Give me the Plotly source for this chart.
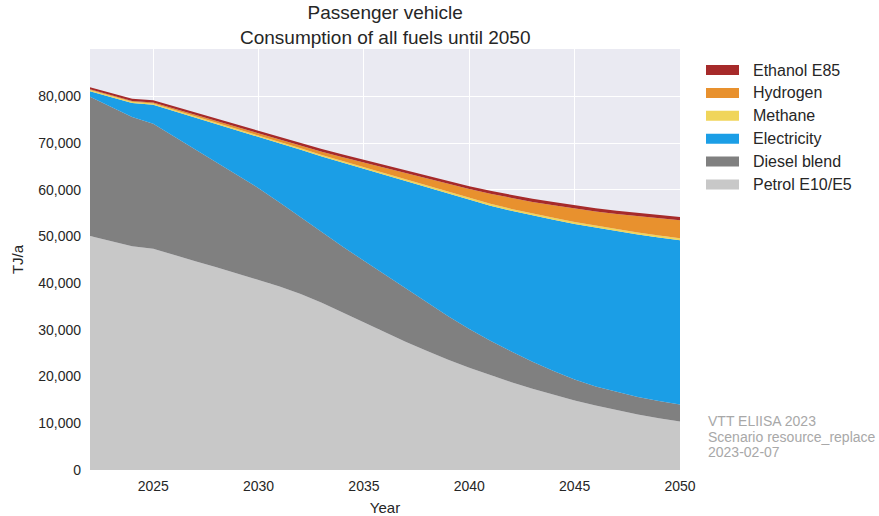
import plotly.graph_objects as go

years = list(range(2022, 2051))

petrol = [50100, 49000, 47900, 47400, 46000, 44700, 43400, 42100, 40700, 39300,
          37700, 35800, 33700, 31500, 29400, 27400, 25500, 23600, 21900, 20300,
          18800, 17400, 16100, 14900, 13800, 12800, 11900, 11100, 10400]
diesel = [29800, 28700, 27700, 26750, 25400, 23950, 22500, 21000, 19650, 18000,
          16400, 15100, 14100, 13300, 12400, 11400, 10300, 9300, 8300, 7400,
          6600, 5800, 5100, 4500, 4100, 3900, 3750, 3700, 3650]
electricity = [1200, 2150, 2980, 4070, 5460, 6850, 8240, 9680, 11070, 12700,
               14450, 16230, 18000, 19700, 21350, 23000, 24650, 26200, 27600, 28900,
               30100, 31300, 32400, 33300, 34000, 34450, 34800, 35000, 35150]
methane = [250, 255, 260, 265, 270, 280, 285, 290, 300, 310,
           320, 330, 340, 350, 360, 370, 380, 390, 400, 400,
           405, 405, 410, 410, 415, 415, 420, 420, 420]
hydrogen = [150, 170, 190, 200, 230, 260, 300, 340, 400, 480,
            580, 700, 830, 970, 1130, 1300, 1500, 1720, 1950, 2150,
            2330, 2500, 2680, 2850, 3050, 3250, 3450, 3650, 3850]
ethanol = [450, 460, 470, 480, 490, 500, 510, 520, 530, 540,
           550, 560, 570, 580, 590, 600, 610, 620, 630, 640,
           650, 660, 670, 680, 690, 700, 700, 710, 720]

series_names = ["Petrol E10/E5", "Diesel blend", "Electricity", "Methane", "Hydrogen", "Ethanol E85"]
series_values = [petrol, diesel, electricity, methane, hydrogen, ethanol]
series_colors = ["#c8c8c8", "#808080", "#1b9ee6", "#f0d55a", "#e8912e", "#a62a2a"]

x_ticks = [2025, 2030, 2035, 2040, 2045, 2050]
y_ticks = [0, 10000, 20000, 30000, 40000, 50000, 60000, 70000, 80000]

watermark = ["VTT ELIISA 2023", "Scenario resource_replace", "2023-02-07"]

FONT = "Liberation Sans, Arial, sans-serif"
TXT = "#262626"

fig = go.Figure()
for name, vals, col in zip(series_names, series_values, series_colors):
    fig.add_trace(go.Scatter(
        x=years, y=vals, name=name, mode="lines", stackgroup="one",
        line=dict(width=0, color=col), fillcolor=col, showlegend=False,
        hoverinfo="x+y+name"))

total_max = max(sum(v) for v in zip(*series_values))

# plot area in pixels
L, R, T, B = 90, 680, 49, 470
W, H = R - L, B - T


def px(x):
    return (x - L) / W


def py(y):
    return (B - y) / H


# manual legend (reverse order, top = Ethanol)
leg_names = series_names[::-1]
leg_colors = series_colors[::-1]
for i, (n, c) in enumerate(zip(leg_names, leg_colors)):
    cy = 70 + i * 22.9
    fig.add_shape(type="rect", xref="paper", yref="paper",
                  x0=px(706), x1=px(739), y0=py(cy + 5), y1=py(cy - 5),
                  fillcolor=c, line=dict(width=0), layer="above")
    fig.add_annotation(xref="paper", yref="paper", x=px(751), y=py(cy),
                       xanchor="left", yanchor="middle", text=n, showarrow=False,
                       font=dict(family=FONT, size=16, color=TXT))

for i, t in enumerate(watermark):
    fig.add_annotation(xref="paper", yref="paper", x=px(706), y=py(421 + i * 15.5),
                       xanchor="left", yanchor="middle", align="left", showarrow=False,
                       text=t, font=dict(family=FONT, size=14, color="#a8a8a8"))

# title
fig.add_annotation(xref="paper", yref="paper", x=0.5, y=py(50),
                   xanchor="center", yanchor="bottom", align="center", showarrow=False,
                   text="Passenger vehicle<br>Consumption of all fuels until 2050",
                   font=dict(family=FONT, size=19, color=TXT))

fig.update_layout(
    width=879, height=516, autosize=False,
    margin=dict(l=L, r=879 - R, t=T, b=516 - B, autoexpand=False),
    paper_bgcolor="white", plot_bgcolor="#eaeaf2",
    font=dict(family=FONT, size=14, color=TXT),
    showlegend=False,
    xaxis=dict(range=[2022, 2050], tickvals=x_ticks, showgrid=True, gridcolor="white",
               gridwidth=1.3, zeroline=False, showline=False, ticks="",
               ticklabelstandoff=6, automargin=False,
               title=dict(text="Year", standoff=9, font=dict(size=15, color=TXT))),
    yaxis=dict(range=[0, total_max * 1.1], tickvals=y_ticks, tickformat=",d",
               showgrid=True, gridcolor="white", gridwidth=1.3, zeroline=False,
               showline=False, ticks="", ticklabelstandoff=8, automargin=False,
               title=dict(text="TJ/a", standoff=10, font=dict(size=15, color=TXT))),
)

fig.write_html("out.html")
